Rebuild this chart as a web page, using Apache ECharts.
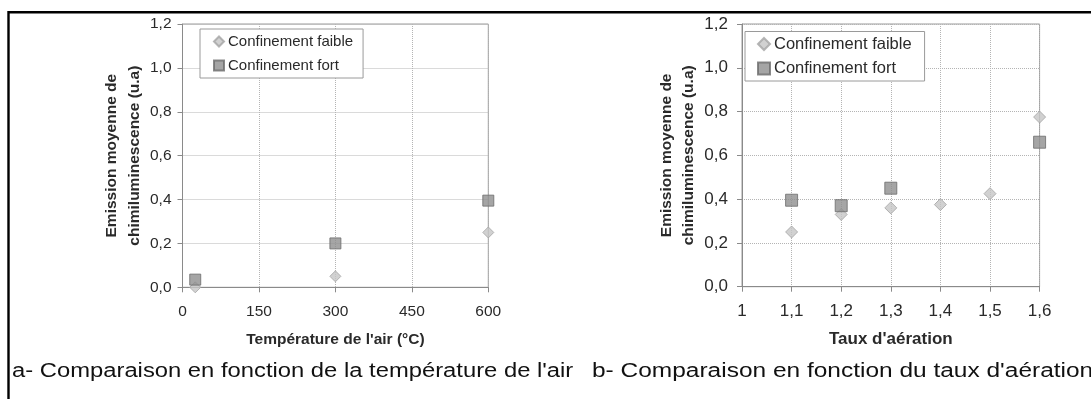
<!DOCTYPE html>
<html>
<head>
<meta charset="utf-8">
<script src="https://cdn.jsdelivr.net/npm/echarts@6/dist/echarts.min.js"></script>
<style>
  html, body { margin: 0; padding: 0; background: #fff; }
  #chart { width: 1091px; height: 399px; }
</style>
</head>
<body>
<div id="chart"></div>
<script>
// a- temperature de l'air
const temp_faible = [25, 300, 600];
const emis_temp_faible = [0.0, 0.05, 0.25];
const temp_fort = [25, 300, 600];
const emis_temp_fort = [0.035, 0.2, 0.395];

// b- taux d'aeration
const taux_faible = [1.1, 1.2, 1.3, 1.4, 1.5, 1.6];
const emis_taux_faible = [0.25, 0.33, 0.36, 0.375, 0.425, 0.775];
const taux_fort = [1.1, 1.2, 1.3, 1.6];
const emis_taux_fort = [0.395, 0.37, 0.45, 0.66];

const SERIES_NAMES = ["Confinement faible", "Confinement fort"];
const Y_NAME = "Emission moyenne de\nchimiluminescence (u.a)";
const X_NAMES = ["Température de l'air (°C)", "Taux d'aération"];
const CAPTIONS = [
    "a- Comparaison en fonction de la température de l'air",
    "b- Comparaison en fonction du taux d'aération",
];

const FONT = "'Liberation Sans', Arial, sans-serif";
const AXIS_GREY = "#8a8a8a";
const GRID_GREY = "#b4b4b4";
const TEXT = "#2a2a2a";

const pair = (xs, ys) => xs.map((x, i) => [x, ys[i]]);
const comma = (v) => String(Math.round(v * 10) / 10).replace(".", ",");

function x_axis(idx, min, max, interval, font_size, name_gap) {
    return {
        type: "value",
        gridIndex: idx,
        min, max, interval,
        name: X_NAMES[idx],
        nameLocation: "middle",
        nameGap: name_gap,
        nameTextStyle: { fontSize: font_size, fontWeight: "bold", color: TEXT, fontFamily: FONT },
        axisLine: { lineStyle: { color: AXIS_GREY } },
        axisTick: { show: true, length: 5, lineStyle: { color: AXIS_GREY } },
        axisLabel: {
            margin: 16, fontSize: font_size, color: TEXT, fontFamily: FONT,
            formatter: idx === 0 ? (v) => String(v) : comma,
        },
        splitLine: { show: true, lineStyle: { color: GRID_GREY, type: [1, 1] } },
    };
}

function y_axis(idx, font_size, label_margin, name_gap) {
    return {
        type: "value",
        gridIndex: idx,
        min: 0, max: 1.2, interval: 0.2,
        name: Y_NAME,
        nameLocation: "middle",
        nameRotate: 90,
        nameGap: name_gap,
        nameTextStyle: {
            fontSize: 15.5, fontWeight: "bold", color: TEXT, fontFamily: FONT,
            lineHeight: 22.5, align: "center",
        },
        axisLine: { show: true, lineStyle: { color: AXIS_GREY } },
        axisTick: { show: true, length: 5, lineStyle: { color: AXIS_GREY } },
        axisLabel: {
            margin: label_margin, fontSize: font_size, color: TEXT, fontFamily: FONT,
            formatter: (v) => v.toFixed(1).replace(".", ","),
        },
        splitLine: { show: true, lineStyle: { color: GRID_GREY, type: [1, 1] } },
    };
}

const faible_style = { color: "#c6c6c6", borderColor: "#a4a4a4", borderWidth: 1 };
const fort_style = { color: "#8e8e8e", borderColor: "#6c6c6c", borderWidth: 1 };

function scatter(name, idx, data, symbol, size, style) {
    return {
        type: "scatter", name,
        xAxisIndex: idx, yAxisIndex: idx,
        data, symbol, symbolSize: size,
        itemStyle: style,
        emphasis: { disabled: true },
    };
}

function legend(left, top, font_size, padding, gap, icon) {
    return {
        orient: "vertical",
        left, top,
        padding, itemGap: gap,
        itemWidth: icon, itemHeight: icon,
        backgroundColor: "#fff",
        borderColor: "#9a9a9a", borderWidth: 1,
        textStyle: { fontSize: font_size, color: TEXT, fontFamily: FONT, padding: [0, 0, 0, -1] },
        data: [
            { name: SERIES_NAMES[0], icon: "diamond" },
            { name: SERIES_NAMES[1], icon: "rect" },
        ],
    };
}

// caption text is wider than tall in the source, hence the horizontal scale
function caption(x, text, scale) {
    return {
        type: "text",
        x, y: 372,
        scaleX: scale,
        style: { text, font: `19.5px ${FONT}`, fill: "#111", verticalAlign: "middle" },
    };
}

const chart = echarts.init(document.getElementById("chart"), null, { renderer: "canvas" });

chart.setOption({
    animation: false,
    backgroundColor: "#fff",
    textStyle: { fontFamily: FONT },
    grid: [
        { left: 182.5, top: 24, width: 305.8, height: 263.3, show: true, borderColor: "#9a9a9a", borderWidth: 1 },
        { left: 742, top: 24, width: 297.6, height: 262.7, show: true, borderColor: "#9a9a9a", borderWidth: 1 },
    ],
    xAxis: [x_axis(0, 0, 600, 150, 15.5, 44), x_axis(1, 1, 1.6, 0.1, 17, 44)],
    yAxis: [y_axis(0, 15.5, 11, 37), y_axis(1, 17, 14, 40)],
    legend: [
        legend(200, 29, 15, [5, 10, 5, 13], 9, 10),
        legend(745, 31.5, 16.5, [4, 13, 4, 12], 7.5, 12),
    ],
    series: [
        scatter(SERIES_NAMES[0], 0, pair(temp_faible, emis_temp_faible), "diamond", 11, faible_style),
        scatter(SERIES_NAMES[1], 0, pair(temp_fort, emis_temp_fort), "rect", 11, fort_style),
        scatter(SERIES_NAMES[0], 1, pair(taux_faible, emis_taux_faible), "diamond", 12, faible_style),
        scatter(SERIES_NAMES[1], 1, pair(taux_fort, emis_taux_fort), "rect", 12, fort_style),
    ],
    graphic: [
        {
            type: "rect",
            shape: { x: 8.5, y: 12.2, width: 1100, height: 400 },
            style: { fill: "none", stroke: "#000", lineWidth: 2.4 },
        },
        caption(12, CAPTIONS[0], 1.22),
        caption(592, CAPTIONS[1], 1.255),
    ],
});
</script>
</body>
</html>
